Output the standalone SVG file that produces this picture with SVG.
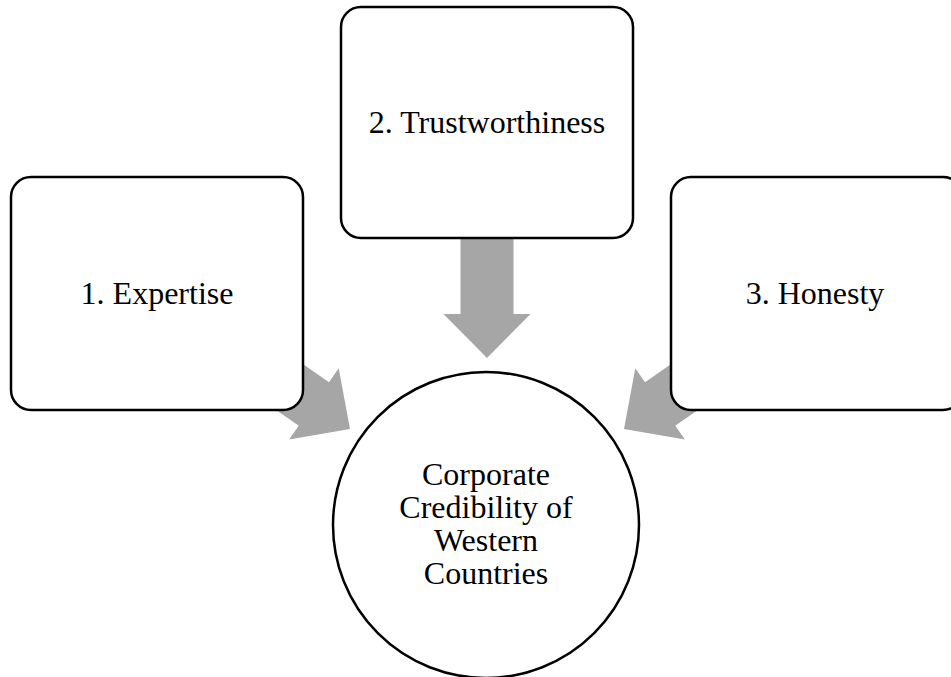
<svg xmlns="http://www.w3.org/2000/svg" width="951" height="677" viewBox="0 0 951 677">
  <defs>
    <style>
      .box { fill: #ffffff; stroke: #000000; stroke-width: 2.5; }
      .arrow { fill: #a6a6a6; stroke: none; }
      .lbl { font-family: "Liberation Serif", "Times New Roman", serif; font-size: 32px; fill: #000000; text-anchor: middle; }
    </style>
    <path id="fatArrow" d="M0,-26.5 H76 V-43.5 L120,0 L76,43.5 V26.5 H0 Z"/>
  </defs>
  <rect width="951" height="677" fill="#ffffff"/>
  <g id="connectors">
    <use href="#fatArrow" class="arrow" transform="translate(487,358) rotate(90) translate(-120,0)"/>
    <use href="#fatArrow" class="arrow" transform="translate(350,429) rotate(34.8) translate(-120,0)"/>
    <use href="#fatArrow" class="arrow" transform="translate(624,429) rotate(145.2) translate(-120,0)"/>
  </g>
  <g id="node-expertise">
    <rect class="box" x="11" y="177" width="292" height="233" rx="20" ry="20"/>
    <text class="lbl" x="157" y="304">1. Expertise</text>
  </g>
  <g id="node-trustworthiness">
    <rect class="box" x="341" y="7" width="292" height="231" rx="20" ry="20"/>
    <text class="lbl" x="487" y="133">2. Trustworthiness</text>
  </g>
  <g id="node-honesty">
    <rect class="box" x="671" y="177" width="292" height="233" rx="20" ry="20"/>
    <text class="lbl" x="815" y="304">3. Honesty</text>
  </g>
  <g id="node-credibility">
    <circle class="box" cx="486" cy="525" r="153"/>
    <text class="lbl" x="486" y="485">Corporate</text>
    <text class="lbl" x="486" y="518">Credibility of</text>
    <text class="lbl" x="486" y="551">Western</text>
    <text class="lbl" x="486" y="584">Countries</text>
  </g>
</svg>
